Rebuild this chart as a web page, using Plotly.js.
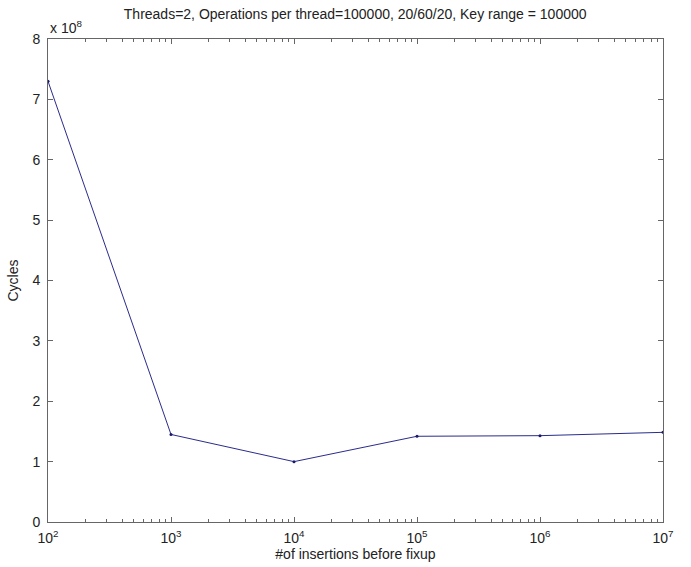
<!DOCTYPE html>
<html>
<head>
<meta charset="utf-8">
<script src="https://cdn.plot.ly/plotly-3.0.1.min.js"></script>
<style>html,body{margin:0;padding:0;background:#fff;}</style>
</head>
<body>
<div id="chart" style="width:691px;height:567px;"></div>
<script>
const insertions = [1e2, 1e3, 1e4, 1e5, 1e6, 1e7];
const cycles = [7.3e8, 1.45e8, 1.0e8, 1.42e8, 1.43e8, 1.485e8];
const xTickVals = [1e2, 1e3, 1e4, 1e5, 1e6, 1e7];
const xTickText = ['10<sup>2</sup>', '10<sup>3</sup>', '10<sup>4</sup>', '10<sup>5</sup>', '10<sup>6</sup>', '10<sup>7</sup>'];
const yTickVals = [0, 1e8, 2e8, 3e8, 4e8, 5e8, 6e8, 7e8, 8e8];
const yTickText = ['0', '1', '2', '3', '4', '5', '6', '7', '8'];

const fam = 'Liberation Sans, Arial, sans-serif';
const txt = {family: fam, size: 14, color: '#222'};

Plotly.newPlot('chart', [{
  x: insertions,
  y: cycles,
  type: 'scatter',
  mode: 'lines+markers',
  line: {color: '#2b2b8c', width: 1},
  marker: {color: '#1a1a6a', size: 3}
}], {
  width: 691, height: 567,
  margin: {l: 48, r: 28, t: 39, b: 45},
  paper_bgcolor: '#fff', plot_bgcolor: '#fff',
  font: txt,
  showlegend: false,
  title: {text: 'Threads=2, Operations per thread=100000, 20/60/20, Key range = 100000',
          font: txt, x: 0.514, xanchor: 'center', y: 0.975, yanchor: 'middle'},
  xaxis: {
    type: 'log', range: [2, 7],
    tickvals: xTickVals, ticktext: xTickText,
    ticks: 'inside', ticklen: 5, tickcolor: '#666',
    showline: true, linecolor: '#666', linewidth: 1, mirror: 'ticks',
    showgrid: false, zeroline: false,
    minor: {ticks: 'inside', ticklen: 3, tickcolor: '#666', dtick: 'D1', showgrid: false},
    tickfont: txt, ticklabelstandoff: 3,
    title: {text: '#of insertions before fixup', font: txt, standoff: 4}
  },
  yaxis: {
    range: [0, 8e8],
    tickvals: yTickVals, ticktext: yTickText,
    ticks: 'inside', ticklen: 5, tickcolor: '#666',
    showline: true, linecolor: '#666', linewidth: 1, mirror: 'ticks',
    showgrid: false, zeroline: false,
    tickfont: txt, ticklabelstandoff: 4,
    title: {text: 'Cycles', font: txt, standoff: 10}
  },
  annotations: [{
    text: 'x 10<sup>8</sup>', xref: 'paper', yref: 'paper', x: 0, y: 1,
    xanchor: 'left', yanchor: 'bottom', showarrow: false, yshift: 1,
    font: txt
  }]
}, {displayModeBar: false, staticPlot: true});
</script>
</body>
</html>
